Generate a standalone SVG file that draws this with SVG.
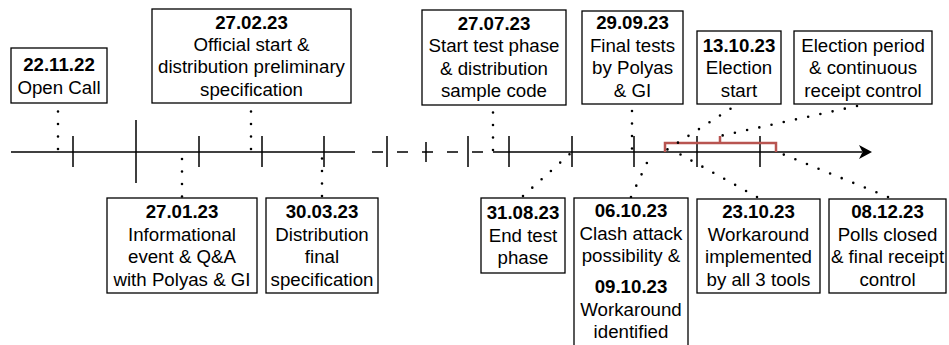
<svg xmlns="http://www.w3.org/2000/svg" width="949" height="345" viewBox="0 0 949 345">
<style>
.box{fill:#fff;stroke:#000;stroke-width:1.3}
.t{font-family:"Liberation Sans",Arial,Helvetica,sans-serif;font-size:18.7px;fill:#000;text-anchor:middle}
.b{font-weight:bold}
.ax{stroke:#000;stroke-width:1.5;fill:none}
.dot{stroke:#000;stroke-width:2.6;fill:none;stroke-linecap:round;stroke-dasharray:0 12.5}
.br{stroke:#b85450;stroke-width:2.5;fill:none}
</style>
<g id="axis">
<line class="ax" x1="11" y1="152" x2="355" y2="152"/>
<line class="ax" x1="372" y1="152" x2="484" y2="152" stroke-dasharray="11 14"/>
<line class="ax" x1="493" y1="152" x2="862" y2="152"/>
<path d="M872,152 L859,145 L862.5,152 L859,159 Z" fill="#000"/>
<path class="ax" d="M73,136V167M136,120V183M199,136V167M262,136V167M324,136V167M387,136V167M426,142V162M468,136V167M509,136V167M572,136V167M634,136V167M697,136V167M760,136V167"/>
</g>
<g id="bracket">
<path class="br" d="M665,152V143H776V152M720,143V136"/>
</g>
<g id="connectors">
<line class="dot" x1="58" y1="111.5" x2="58" y2="152"/>
<line class="dot" x1="251" y1="111.5" x2="251" y2="152"/>
<line class="dot" x1="182" y1="159" x2="182" y2="198"/>
<line class="dot" x1="322" y1="158.5" x2="322" y2="198"/>
<line class="dot" x1="493" y1="112.5" x2="493" y2="152"/>
<line class="dot" x1="523" y1="196" x2="572" y2="152"/>
<line class="dot" x1="632" y1="111" x2="632" y2="152"/>
<line class="dot" x1="631" y1="197" x2="652" y2="152"/>
<line class="dot" x1="741" y1="102" x2="665" y2="151"/>
<line class="dot" x1="857" y1="106" x2="720" y2="136"/>
<line class="dot" x1="757" y1="197" x2="676" y2="152"/>
<line class="dot" x1="888" y1="197" x2="775" y2="151"/>
</g>
<g id="n1">
<rect class="box" x="11" y="48" width="96" height="55"/>
<text class="t b" x="59" y="71">22.11.22</text>
<text class="t" x="59" y="94">Open Call</text>
</g>
<g id="n2">
<rect class="box" x="152" y="9" width="199" height="94"/>
<text class="t b" x="251.5" y="28.5">27.02.23</text>
<text class="t" x="251.5" y="50.9">Official start &amp;</text>
<text class="t" x="251.5" y="73.3">distribution preliminary</text>
<text class="t" x="251.5" y="95.7">specification</text>
</g>
<g id="n3">
<rect class="box" x="422" y="10" width="144" height="95"/>
<text class="t b" x="494" y="30">27.07.23</text>
<text class="t" x="494" y="52.4">Start test phase</text>
<text class="t" x="494" y="74.8">&amp; distribution</text>
<text class="t" x="494" y="97.2">sample code</text>
</g>
<g id="n4">
<rect class="box" x="582" y="11" width="101" height="93"/>
<text class="t b" x="632.5" y="29.3">29.09.23</text>
<text class="t" x="632.5" y="51.7">Final tests</text>
<text class="t" x="632.5" y="74.1">by Polyas</text>
<text class="t" x="632.5" y="96.5">&amp; GI</text>
</g>
<g id="n5">
<rect class="box" x="697" y="31" width="84" height="73"/>
<text class="t b" x="739" y="51.7">13.10.23</text>
<text class="t" x="739" y="74.1">Election</text>
<text class="t" x="739" y="96.5">start</text>
</g>
<g id="n6">
<rect class="box" x="794" y="31" width="138" height="73"/>
<text class="t" x="863" y="52">Election period</text>
<text class="t" x="863" y="74.4">&amp; continuous</text>
<text class="t" x="863" y="96.8">receipt control</text>
</g>
<g id="n7">
<rect class="box" x="107" y="198" width="150" height="95"/>
<text class="t b" x="182" y="218.3">27.01.23</text>
<text class="t" x="182" y="240.7">Informational</text>
<text class="t" x="182" y="263.1">event &amp; Q&amp;A</text>
<text class="t" x="182" y="285.5">with Polyas &amp; GI</text>
</g>
<g id="n8">
<rect class="box" x="266" y="198" width="112" height="95"/>
<text class="t b" x="322" y="218.3">30.03.23</text>
<text class="t" x="322" y="240.7">Distribution</text>
<text class="t" x="322" y="263.1">final</text>
<text class="t" x="322" y="285.5">specification</text>
</g>
<g id="n9">
<rect class="box" x="481" y="198" width="84" height="75"/>
<text class="t b" x="523" y="219.3">31.08.23</text>
<text class="t" x="523" y="241.7">End test</text>
<text class="t" x="523" y="264">phase</text>
</g>
<g id="n10">
<rect class="box" x="574" y="198" width="114" height="160"/>
<text class="t b" x="631" y="217.3">06.10.23</text>
<text class="t" x="631" y="239.8">Clash attack</text>
<text class="t" x="631" y="262.3">possibility &amp;</text>
<text class="t b" x="631" y="293.3">09.10.23</text>
<text class="t" x="631" y="315.5">Workaround</text>
<text class="t" x="631" y="337.7">identified</text>
</g>
<g id="n11">
<rect class="box" x="697" y="199" width="123" height="94"/>
<text class="t b" x="758.5" y="218.3">23.10.23</text>
<text class="t" x="758.5" y="240.7">Workaround</text>
<text class="t" x="758.5" y="263.1">implemented</text>
<text class="t" x="758.5" y="285.5">by all 3 tools</text>
</g>
<g id="n12">
<rect class="box" x="829" y="199" width="117" height="94"/>
<text class="t b" x="887.5" y="218.3">08.12.23</text>
<text class="t" x="887.5" y="240.7">Polls closed</text>
<text class="t" x="887.5" y="263.1">&amp; final receipt</text>
<text class="t" x="887.5" y="285.5">control</text>
</g>
</svg>
